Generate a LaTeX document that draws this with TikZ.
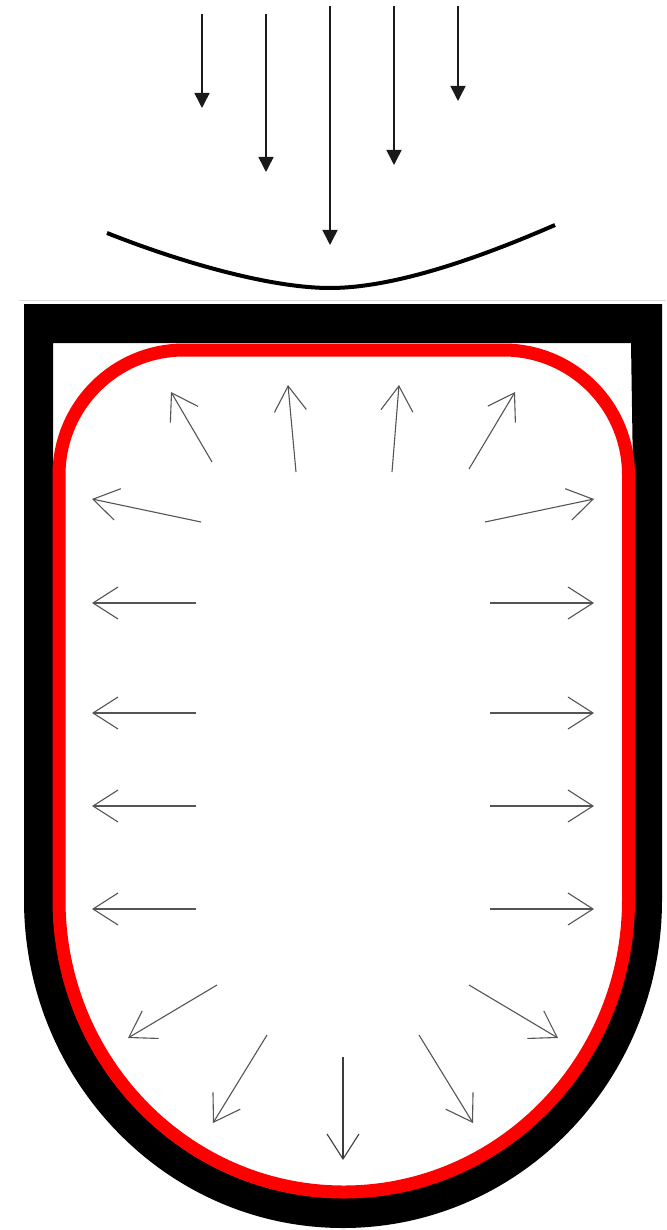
\documentclass[tikz,border=0pt]{standalone}
\usepackage{xcolor}
\usepackage{tikz}
\usetikzlibrary{arrows.meta}
\definecolor{wallblack}{HTML}{000000}
\definecolor{skinred}{HTML}{FF0000}
\definecolor{pushgray}{HTML}{555555}
\definecolor{loadblack}{HTML}{1A1A1A}

\begin{document}
\begin{tikzpicture}[x=1pt,y=-1pt,
    loadarrow/.style={-{Triangle[length=15pt,width=15pt]},loadblack,line width=1.5pt},
    pusharrow/.style={-{Straight Barb[length=25pt,width=32pt]},pushgray,line width=1.1pt}]
  \useasboundingbox (0,0) rectangle (666,1230);
  % falling load
  \draw[loadarrow] (202,14) -- (202,108);
  \draw[loadarrow] (266,14) -- (266,172);
  \draw[loadarrow] (330,6) -- (330,245);
  \draw[loadarrow] (394,6) -- (394,165);
  \draw[loadarrow] (458,6) -- (458,101);
  \draw[line width=4pt] (107,233) .. controls (180,262) and (270,288) .. (330,288)
    .. controls (390,288) and (470,262) .. (555,225);
  \draw[gray!30,line width=1pt] (19,300) -- (666,300);
  % outer wall
  \fill[wallblack,even odd rule]
    (24,304) -- (662,304) -- (662,900)
      arc[start angle=0,end angle=180,x radius=319,y radius=328] -- cycle
    (53,343) -- (631,343) -- (632.5,440) -- (632.5,900)
      arc[start angle=0,end angle=180,x radius=289.75,y radius=298] -- cycle;
  % red lining
  \fill[white] (59,475) arc[start angle=180,end angle=270,radius=125]
    -- (503.5,350) arc[start angle=270,end angle=360,radius=125]
    -- (628.5,900) arc[start angle=0,end angle=180,x radius=284.75,y radius=292] -- cycle;
  \draw[skinred,line width=13pt] (59,475) arc[start angle=180,end angle=270,radius=125]
    -- (503.5,350) arc[start angle=270,end angle=360,radius=125]
    -- (628.5,900) arc[start angle=0,end angle=180,x radius=284.75,y radius=292] -- cycle;
  % pressure arrows
  \draw[pusharrow] (212,462) -- (171,392);
  \draw[pusharrow] (296,472) -- (288,385);
  \draw[pusharrow] (392,472) -- (399,385);
  \draw[pusharrow] (469,469) -- (515,392);
  \draw[pusharrow] (201,522) -- (92,499);
  \draw[pusharrow] (485,522) -- (594,499);
  \draw[pusharrow] (196,603) -- (92,603);
  \draw[pusharrow] (196,713) -- (92,713);
  \draw[pusharrow] (196,806) -- (92,806);
  \draw[pusharrow] (196,909) -- (92,909);
  \draw[pusharrow] (490,603) -- (594,603);
  \draw[pusharrow] (490,713) -- (594,713);
  \draw[pusharrow] (490,806) -- (594,806);
  \draw[pusharrow] (490,909) -- (594,909);
  \draw[pusharrow] (217,985) -- (128,1038);
  \draw[pusharrow] (267,1035) -- (213,1123);
  \draw[pusharrow,loadblack!85] (343,1057) -- (343,1160);
  \draw[pusharrow] (419,1035) -- (473,1123);
  \draw[pusharrow] (469,985) -- (558,1038);
\end{tikzpicture}
\end{document}
